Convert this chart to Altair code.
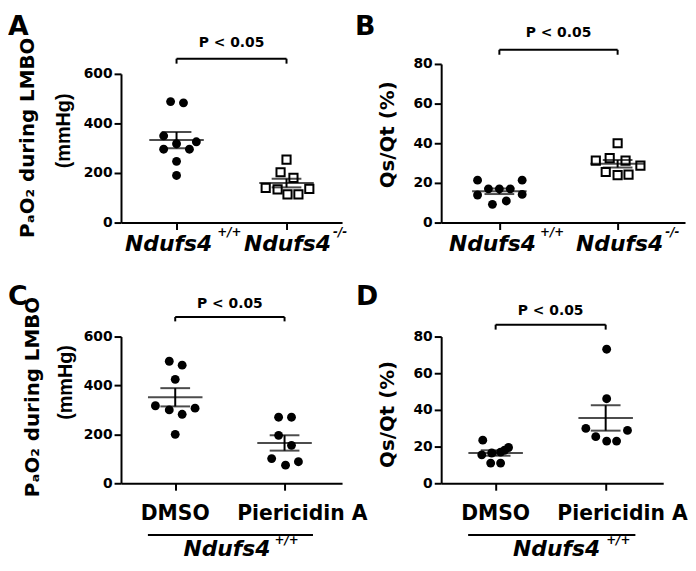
import altair as alt
import pandas as pd

FONT = "DejaVu Sans"
ARIAL = "Liberation Sans"

# ---------------- data ----------------
A_groups = ["Ndufs4", "Ndufs4"]
A_sups = ["+/+", "-/-"]
A_wt = [488, 483, 350, 318, 326, 296, 296, 247, 190]
A_ko = [254, 203, 180, 140, 134, 136, 114, 114]

B_groups = ["Ndufs4", "Ndufs4"]
B_sups = ["+/+", "-/-"]
B_wt = [21.4, 21.4, 13.9, 17.0, 17.0, 17.0, 14.2, 9.2, 10.9]
B_ko = [40.0, 31.2, 32.5, 31.2, 28.7, 25.5, 23.9, 24.2]

C_groups = ["DMSO", "Piericidin A"]
C_dmso = [499, 483, 425, 317, 300, 282, 307, 200]
C_pier = [270, 270, 196, 155, 101, 74, 88]

D_groups = ["DMSO", "Piericidin A"]
D_dmso = [23.5, 15.5, 16.5, 17.0, 19.5, 18.0, 11.0, 11.0]
D_pier = [73.1, 46.1, 29.9, 28.8, 25.4, 23.0, 23.0]

pa_ticks = [0, 200, 400, 600]
qs_ticks = [0, 20, 40, 60, 80]

# horizontal scatter of the dots inside each column (pixels)
A_wt_sp = [-6, 7, -13, 0, 20, -13, 13, 0, 0]
A_ko_sp = [0, -6, 7, -21, -9, 23, 1, 12]
B_wt_sp = [-22, 23, -22, -11, 0, 11, 23, -7, 7]
B_ko_sp = [0, -22, -8, 8, 23, -12, 0, 11]
C_dmso_sp = [-6, 7, 0, -20, -6, 7, 20, 0]
C_pier_sp = [-6, 7, -6, 7, -13, 1, 14]
D_dmso_sp = [-13, -14, -4, 5, 13, 9, -5, 5]
D_pier_sp = [1, 1, -20, 22, -10, 1, 11]

PA_TITLE = "PₐO₂ during LMBO"
QS_TITLE = "Qs/Qt (%)"


def panel(c):
    W, H = c["W"], c["H"]
    xs = alt.Scale(domain=c["xdom"], nice=False, zero=False)
    ys = alt.Scale(domain=c["ydom"], range=c["yrange"], nice=False)
    xaxis = alt.Axis(values=[0, 1], labels=False, title=None, tickSize=7)
    yaxis = alt.Axis(values=c["yticks"], title=c["title"], titleX=c["titleX"],
                     titleY=c["titleY"], titleAngle=270, titleAlign="center",
                     titleBaseline="alphabetic", titleFont=FONT,
                     titleFontSize=20, titleFontWeight="bold",
                     titleColor="black")

    def X(f):
        return alt.X(f, scale=xs, axis=xaxis)

    def Y(f):
        return alt.Y(f, scale=ys, axis=yaxis)

    def vtext(text, y, size, dx=0, align="center", italic=False, g=0.0,
              font=FONT, angle=0, xpix=None):
        kw = dict(text=text, font=font, fontSize=size, fontWeight="bold",
                  color="black", align=align, baseline="alphabetic", dx=dx)
        if italic:
            kw["fontStyle"] = "italic"
        if angle:
            kw["angle"] = angle
        m = alt.Chart(pd.DataFrame({"g": [g]})).mark_text(**kw)
        if xpix is not None:
            return m.encode(x=alt.value(xpix), y=alt.value(y))
        return m.encode(x=X("g:Q"), y=alt.value(y))

    ppu = W / (c["xdom"][1] - c["xdom"][0])
    rows = []
    for gi, (vals, sp) in enumerate(zip(c["vals"], c["spread"])):
        for v, s in zip(vals, sp):
            rows.append({"grp": gi, "value": v, "x": gi + s / ppu})
    base = alt.Chart(pd.DataFrame(rows))

    layers = []
    for gi, shape in enumerate(c["shapes"]):
        sub = base.transform_filter(f"datum.grp == {gi}")
        if shape == "circle":
            m = sub.mark_circle(size=80, color="black", opacity=1)
        else:
            m = sub.mark_point(shape="square", size=68, filled=True,
                               fill="white", stroke="black", strokeWidth=2,
                               opacity=1)
        layers.append(m.encode(x=X("x:Q"), y=Y("value:Q")))

    stats = base.transform_aggregate(
        m="mean(value)", se="stderr(value)", groupby=["grp"]
    ).transform_calculate(lo="datum.m - datum.se", hi="datum.m + datum.se")
    layers.append(stats.mark_tick(orient="horizontal", size=55, thickness=2,
                                  color="black").encode(x=X("grp:Q"), y=Y("m:Q")))
    layers.append(stats.mark_rule(strokeWidth=2, color="black").encode(
        x=X("grp:Q"), y=Y("lo:Q"), y2="hi:Q"))
    for f in ["lo", "hi"]:
        layers.append(stats.mark_tick(orient="horizontal", size=30, thickness=2,
                                      color="black").encode(x=X("grp:Q"), y=Y(f"{f}:Q")))

    # significance bracket
    by0, by1, pty = c["bracket"]
    br = pd.DataFrame({"a": [0], "b": [1]})
    layers.append(alt.Chart(br).mark_rule(strokeWidth=2, color="black").encode(
        x=X("a:Q"), x2="b:Q", y=alt.value(by0)))
    layers.append(alt.Chart(pd.DataFrame({"g": [0, 1]})).mark_rule(
        strokeWidth=2, color="black").encode(
        x=X("g:Q"), y=alt.value(by0), y2=alt.value(by1)))
    layers.append(vtext("P < 0.05", pty, 14, g=0.5))

    # category labels
    for lab in c["labels"]:
        layers.append(vtext(lab["text"], lab["y"], lab["size"],
                            dx=lab.get("dx", 0), align=lab.get("align", "center"),
                            italic=lab.get("italic", False), g=lab["g"]))
    if "under" in c:
        ux0, ux1, uy = c["under"]
        layers.append(alt.Chart(pd.DataFrame({"a": [ux0], "b": [ux1]})).mark_rule(
            strokeWidth=2, color="black").encode(
            x=X("a:Q"), x2="b:Q", y=alt.value(uy)))

    # second title line and panel letter
    if "title2" in c:
        t, tx, ty = c["title2"]
        layers.append(vtext(t, ty, 20, font=ARIAL, angle=270, xpix=tx))
    lt, lx, ly = c["letter"]
    layers.append(vtext(lt, ly, 27, align="left", xpix=lx))
    return alt.layer(*layers).properties(width=W, height=H)


A = panel(dict(
    W=223, H=160, xdom=[-0.505, 1.505], ydom=[0, 600], yrange=[160, 10],
    yticks=pa_ticks, vals=[A_wt, A_ko], spread=[A_wt_sp, A_ko_sp],
    shapes=["circle", "square"], title=PA_TITLE, titleX=-88.7, titleY=74,
    title2=("(mmHg)", -51, 67.5), letter=("A", -114, -29),
    bracket=(-5.3, -0.3, -17),
    labels=[
        dict(text=A_groups[0], g=0, y=188.7, size=22, dx=-8, italic=True),
        dict(text=A_sups[0], g=0, y=173.5, size=12, dx=41, align="left", italic=True),
        dict(text=A_groups[1], g=1, y=188.7, size=22, dx=1, italic=True),
        dict(text=A_sups[1], g=1, y=173.5, size=12, dx=47, align="left", italic=True),
    ]))

B = panel(dict(
    W=246, H=160, xdom=[-0.492, 1.570], ydom=[0, 80], yrange=[160, 0],
    yticks=qs_ticks, vals=[B_wt, B_ko], spread=[B_wt_sp, B_ko_sp],
    shapes=["circle", "square"], title=QS_TITLE, titleX=-48.5, titleY=71,
    letter=("B", -87, -29), bracket=(-14.3, -9.3, -27),
    labels=[
        dict(text=B_groups[0], g=0, y=188.7, size=22, dx=-7, italic=True),
        dict(text=B_sups[0], g=0, y=173.5, size=12, dx=41, align="left", italic=True),
        dict(text=B_groups[1], g=1, y=188.7, size=22, dx=2, italic=True),
        dict(text=B_sups[1], g=1, y=173.5, size=12, dx=48, align="left", italic=True),
    ]))

C = panel(dict(
    W=223, H=148, xdom=[-0.496, 1.526], ydom=[0, 600], yrange=[148, 0],
    yticks=pa_ticks, vals=[C_dmso, C_pier], spread=[C_dmso_sp, C_pier_sp],
    shapes=["circle", "circle"], title=PA_TITLE, titleX=-83.7, titleY=60.5,
    title2=("(mmHg)", -49, 46.3), letter=("C", -114, -32),
    bracket=(-19.7, -15.3, -28.7),
    under=(-0.25, 1.26, 200.3),
    labels=[
        dict(text=C_groups[0], g=0, y=185.3, size=20.5),
        dict(text=C_groups[1], g=1, y=185.3, size=20.5, dx=18),
        dict(text="Ndufs4", g=0.5, y=221.3, size=22, dx=-3, italic=True),
        dict(text="+/+", g=0.5, y=209, size=12, dx=45, align="left", italic=True),
    ]))

D = panel(dict(
    W=224, H=148, xdom=[-0.495, 1.523], ydom=[0, 80], yrange=[148, 0],
    yticks=qs_ticks, vals=[D_dmso, D_pier], spread=[D_dmso_sp, D_pier_sp],
    shapes=["circle", "circle"], title=QS_TITLE, titleX=-48.5, titleY=78,
    letter=("D", -86, -32), bracket=(-12, -7, -22),
    under=(-0.25, 1.27, 200.3),
    labels=[
        dict(text=D_groups[0], g=0, y=185.3, size=20.5),
        dict(text=D_groups[1], g=1, y=185.3, size=20.5, dx=17),
        dict(text="Ndufs4", g=0.5, y=221.3, size=22, dx=6, italic=True),
        dict(text="+/+", g=0.5, y=209, size=12, dx=56, align="left", italic=True),
    ]))

chart = alt.concat(
    A, B, C, D, columns=2, spacing={"row": 115, "column": 100}, bounds="flush"
).properties(
    padding={"top": 3, "left": 0, "right": 0, "bottom": 0}
).configure_view(stroke=None).configure_axis(
    grid=False, domainColor="black", domainWidth=2, tickColor="black",
    tickWidth=2, tickSize=7, labelFont=FONT, labelFontSize=14,
    labelFontWeight="bold", labelColor="black", labelPadding=2
)

chart.save("out.html", embed_options={"renderer": "svg", "actions": False})
